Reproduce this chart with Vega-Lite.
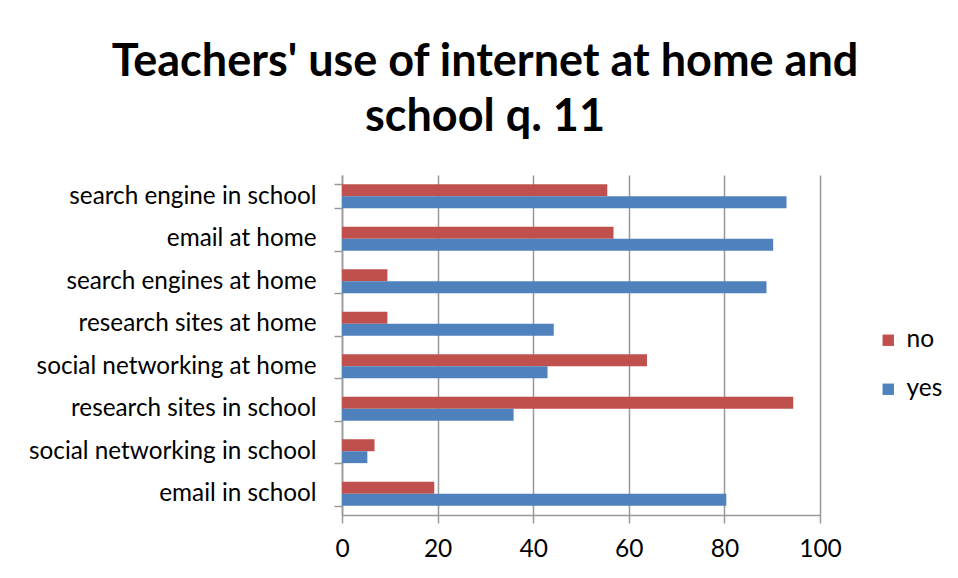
{
  "$schema": "https://vega.github.io/schema/vega-lite/v6.json",
  "width": 478,
  "height": 340,
  "autosize": {"type": "none"},
  "padding": {"left": 342, "top": 175, "right": 138, "bottom": 63},
  "background": "white",
  "title": {
    "text": ["Teachers' use of internet at home and", "school q. 11"],
    "font": "Lato",
    "fontSize": 45,
    "fontWeight": "bold",
    "color": "black",
    "anchor": "middle",
    "dx": -96,
    "offset": 23,
    "lineHeight": 55
  },
  "data": {
    "values": [
      {"category": "search engine in school", "response": "no", "value": 55.5},
      {"category": "search engine in school", "response": "yes", "value": 93.0},
      {"category": "email at home", "response": "no", "value": 56.8},
      {"category": "email at home", "response": "yes", "value": 90.2},
      {"category": "search engines at home", "response": "no", "value": 9.5},
      {"category": "search engines at home", "response": "yes", "value": 88.8},
      {"category": "research sites at home", "response": "no", "value": 9.5},
      {"category": "research sites at home", "response": "yes", "value": 44.3},
      {"category": "social networking at home", "response": "no", "value": 63.8},
      {"category": "social networking at home", "response": "yes", "value": 43.0},
      {"category": "research sites in school", "response": "no", "value": 94.4},
      {"category": "research sites in school", "response": "yes", "value": 35.9},
      {"category": "social networking in school", "response": "no", "value": 6.8},
      {"category": "social networking in school", "response": "yes", "value": 5.3},
      {"category": "email in school", "response": "no", "value": 19.3},
      {"category": "email in school", "response": "yes", "value": 80.4}
    ]
  },
  "mark": {"type": "bar"},
  "encoding": {
    "y": {
      "field": "category",
      "type": "nominal",
      "sort": null,
      "scale": {"paddingInner": 0.44, "paddingOuter": 0.22},
      "axis": {
        "title": null,
        "tickBand": "extent",
        "tickSize": 8,
        "tickColor": "#999999",
        "tickWidth": 1.5,
        "domainColor": "#999999",
        "domainWidth": 1.5,
        "labelFont": "Lato",
        "labelFontSize": 24.3,
        "labelLimit": 400,
        "labelColor": "black",
        "labelPadding": 18,
        "grid": false
      }
    },
    "yOffset": {
      "field": "response",
      "sort": ["no", "yes"],
      "scale": {"paddingInner": 0, "paddingOuter": 0}
    },
    "x": {
      "field": "value",
      "type": "quantitative",
      "scale": {"domain": [0, 100]},
      "axis": {
        "title": null,
        "values": [0, 20, 40, 60, 80, 100],
        "grid": true,
        "gridColor": "#999999",
        "gridWidth": 1.5,
        "tickSize": 8,
        "tickColor": "#999999",
        "tickWidth": 1.5,
        "domainColor": "#999999",
        "domainWidth": 1.5,
        "labelFont": "Lato",
        "labelFontSize": 24.5,
        "labelColor": "black",
        "labelPadding": 14,
        "labelFlush": false
      }
    },
    "color": {
      "field": "response",
      "type": "nominal",
      "scale": {"domain": ["no", "yes"], "range": ["#C0504D", "#4F81BD"]},
      "legend": {
        "orient": "none",
        "legendX": 534,
        "legendY": 153,
        "title": null,
        "padding": 0,
        "symbolType": "square",
        "symbolSize": 130,
        "symbolStrokeWidth": 0,
        "labelFont": "Lato",
        "labelFontSize": 24.5,
        "labelColor": "black",
        "rowPadding": 24,
        "labelOffset": 6
      }
    }
  },
  "config": {"view": {"stroke": null}}
}
